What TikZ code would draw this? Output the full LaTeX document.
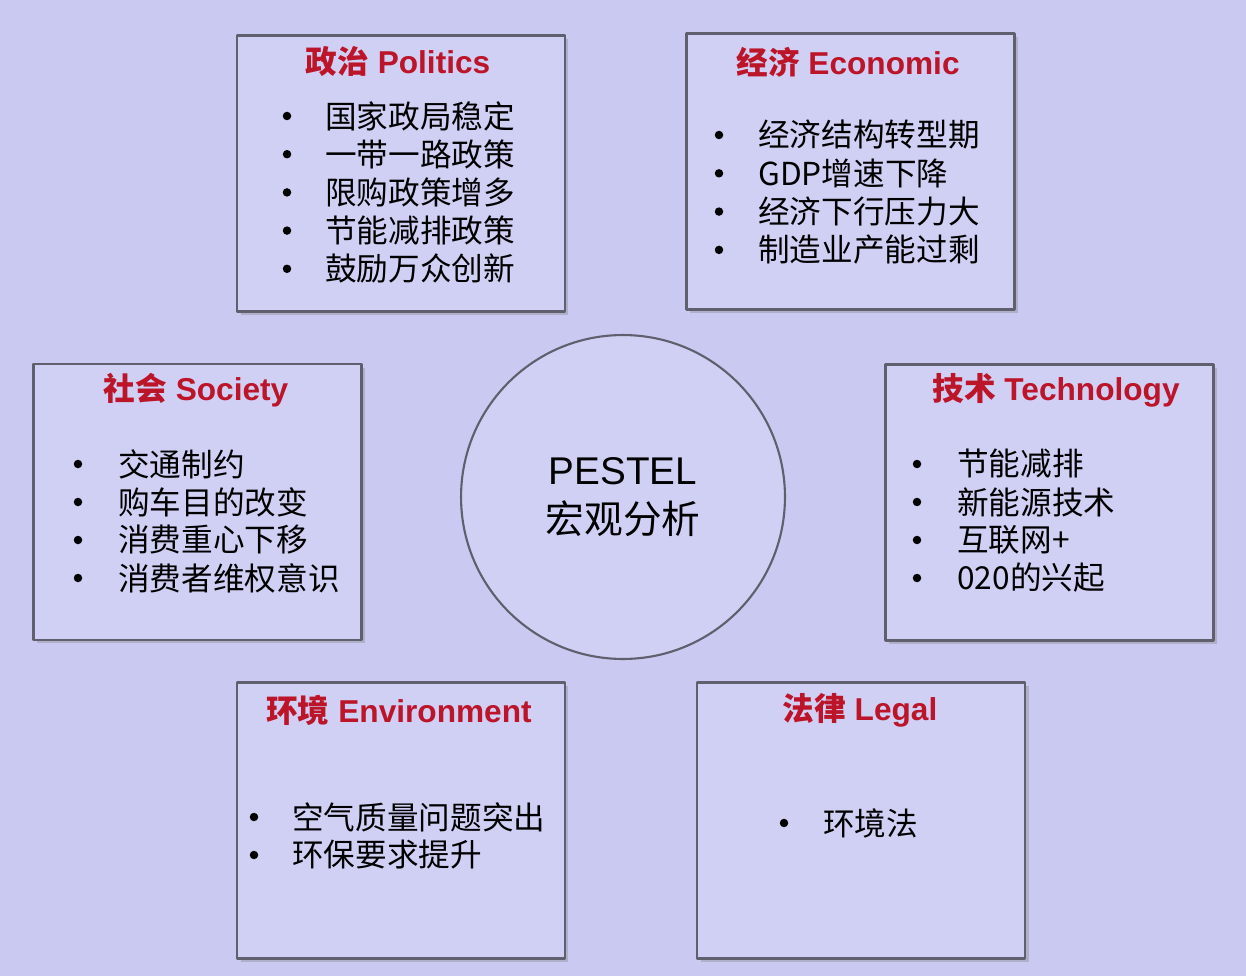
\documentclass[tikz,border=0pt]{standalone}
\usepackage{fontspec}
\setmainfont{Liberation Sans}
\newfontfamily\cjk{Noto Sans CJK SC}
\usetikzlibrary{positioning,shadows}

\definecolor{bgcol}{RGB}{201,201,241}
\definecolor{boxcol}{RGB}{208,208,245}
\definecolor{edgecol}{RGB}{95,95,110}
\definecolor{titlecol}{RGB}{188,20,40}

\tikzset{
  panel/.style={draw=edgecol, line width=1.2pt, fill=boxcol, inner sep=0pt,
    minimum width=6.56cm, minimum height=5.52cm,
    drop shadow={opacity=0.35, shadow xshift=2pt, shadow yshift=-2pt}},
  heading/.style={font=\fontsize{18}{20}\selectfont\bfseries, text=titlecol, inner sep=0pt},
  item/.style={font=\cjk\fontsize{18}{20}\selectfont, anchor=west, inner sep=0pt},
  dot/.style={circle, fill=black, inner sep=0pt, minimum size=0.17cm}
}

\begin{document}
\begin{tikzpicture}[x=0.02cm, y=-0.02cm, line cap=round, line join=round]
% background
\fill[bgcol] (0,0) rectangle (1246,976);
\useasboundingbox (0,0) rectangle (1246,976);

% centre circle
\node[circle, draw=edgecol, line width=1.2pt, fill=boxcol, minimum size=6.48cm,
  align=center, font=\fontsize{22}{28}\selectfont] (core) at (623,497)
  {PESTEL\\{\cjk 宏观分析}};

% six panels
\node[panel] (pol) at (401,173.5) {};
\node[panel] (eco) at (850.5,171.5) {};
\node[panel] (soc) at (197.5,502) {};
\node[panel] (tec) at (1049.5,502.5) {};
\node[panel] (env) at (401,820.5) {};
\node[panel] (leg) at (861,820.5) {};

% headings
\node[heading] (pol-t) at (398,62) {{\cjk\bfseries 政治} Politics};
\node[heading] (eco-t) at (848,62) {{\cjk\bfseries 经济} Economic};
\node[heading] (soc-t) at (196,390) {{\cjk\bfseries 社会} Society};
\node[heading] (tec-t) at (1056,390) {{\cjk\bfseries 技术} Technology};
\node[heading] (env-t) at (399,710) {{\cjk\bfseries 环境} Environment};
\node[heading] (leg-t) at (860,710) {{\cjk\bfseries 法律} Legal};

% bullet lists
\foreach \txt [count=\i] in {国家政局稳定,一带一路政策,限购政策增多,节能减排政策,鼓励万众创新} {
  \node[dot] (pol-d\i) at (287,{116+38.2*(\i-1)}) {};
  \node[item] (pol-\i) at (325,{116+38.2*(\i-1)}) {\txt};
}
\foreach \txt [count=\i] in {经济结构转型期,GDP增速下降,经济下行压力大,制造业产能过剩} {
  \node[dot] (eco-d\i) at (719,{135+38.3*(\i-1)}) {};
  \node[item] (eco-\i) at (758,{135+38.3*(\i-1)}) {\txt};
}
\foreach \txt [count=\i] in {交通制约,购车目的改变,消费重心下移,消费者维权意识} {
  \node[dot] (soc-d\i) at (78,{464+38*(\i-1)}) {};
  \node[item] (soc-\i) at (118,{464+38*(\i-1)}) {\txt};
}
\foreach \txt [count=\i] in {节能减排,新能源技术,互联网+,020的兴起} {
  \node[dot] (tec-d\i) at (917,{464+38*(\i-1)}) {};
  \node[item] (tec-\i) at (957,{464+38*(\i-1)}) {\txt};
}
\foreach \txt [count=\i] in {空气质量问题突出,环保要求提升} {
  \node[dot] (env-d\i) at (254,{817+38*(\i-1)}) {};
  \node[item] (env-\i) at (292,{817+38*(\i-1)}) {\txt};
}
\node[dot] (leg-d1) at (784,823) {};
\node[item] (leg-1) at (823,823) {环境法};
\end{tikzpicture}
\end{document}
